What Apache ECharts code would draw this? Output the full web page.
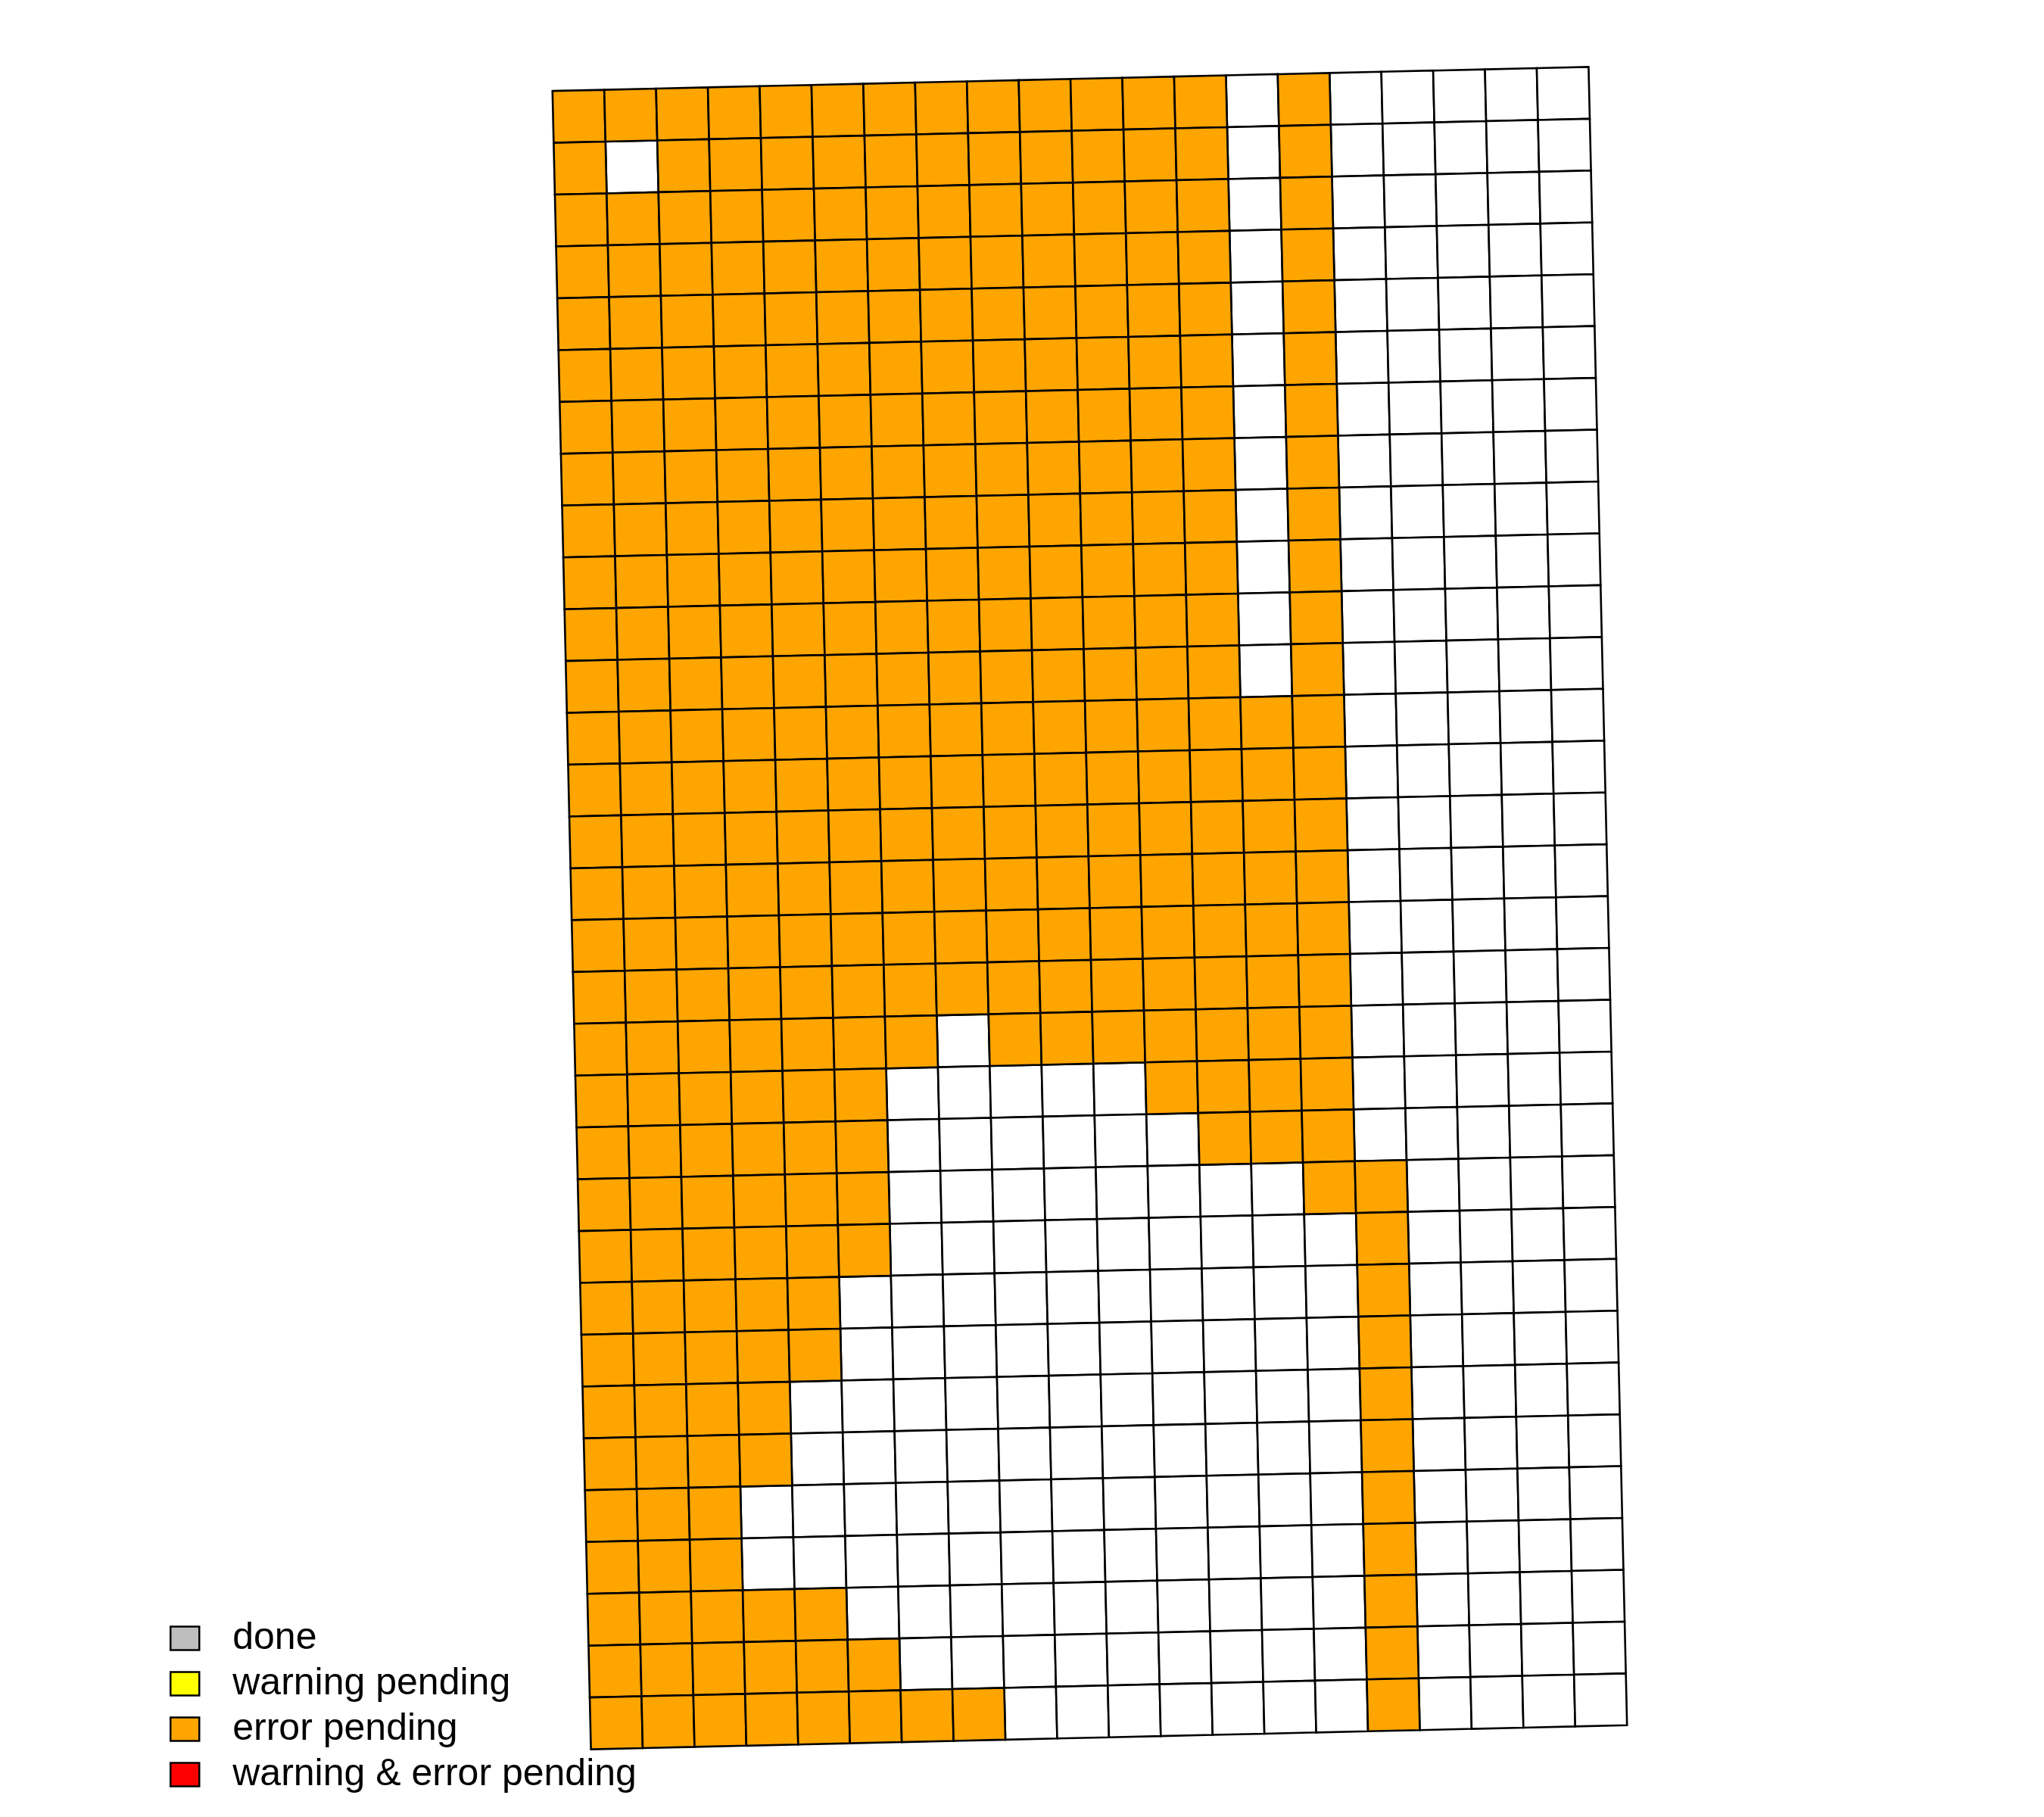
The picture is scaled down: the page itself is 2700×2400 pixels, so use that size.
<!DOCTYPE html>
<html><head><meta charset="utf-8">
<script src="https://cdn.jsdelivr.net/npm/echarts@6/dist/echarts.min.js"></script>
<style>html,body{margin:0;padding:0;background:#fff}#chart{width:2700px;height:2400px}</style>
</head><body><div id="chart"></div>
<script>
// Legend categories and their colours
const legendLabels = ['done', 'warning pending', 'error pending', 'warning & error pending'];
const legendCodes = ['D', 'W', 'E', 'B'];
const legendColors = ['#BEBEBE', '#FFFF00', '#FFA500', '#FF0000'];
const emptyCode = '.';
const emptyColor = '#FFFFFF';

// Grid of cell states: one string per row (top to bottom), one char per column
// E = error pending, . = not started
const statusRows = [
  'EEEEEEEEEEEEE.E.....',
  'E.EEEEEEEEEEE.E.....',
  'EEEEEEEEEEEEE.E.....',
  'EEEEEEEEEEEEE.E.....',
  'EEEEEEEEEEEEE.E.....',
  'EEEEEEEEEEEEE.E.....',
  'EEEEEEEEEEEEE.E.....',
  'EEEEEEEEEEEEE.E.....',
  'EEEEEEEEEEEEE.E.....',
  'EEEEEEEEEEEEE.E.....',
  'EEEEEEEEEEEEE.E.....',
  'EEEEEEEEEEEEE.E.....',
  'EEEEEEEEEEEEEEE.....',
  'EEEEEEEEEEEEEEE.....',
  'EEEEEEEEEEEEEEE.....',
  'EEEEEEEEEEEEEEE.....',
  'EEEEEEEEEEEEEEE.....',
  'EEEEEEEEEEEEEEE.....',
  'EEEEEEE.EEEEEEE.....',
  'EEEEEE.....EEEE.....',
  'EEEEEE......EEE.....',
  'EEEEEE........EE....',
  'EEEEEE.........E....',
  'EEEEE..........E....',
  'EEEEE..........E....',
  'EEEE...........E....',
  'EEEE...........E....',
  'EEE............E....',
  'EEE............E....',
  'EEEEE..........E....',
  'EEEEEE.........E....',
  'EEEEEEEE.......E....'
];

const nRows = statusRows.length;
const nCols = statusRows[0].length;
const tilt = 0.0232; // radians, counter-clockwise

function cellsFor(code) {
  const out = [];
  statusRows.forEach((row, r) => {
    for (let c = 0; c < row.length; c++) if (row[c] === code) out.push([c, r]);
  });
  return out;
}

function renderCell(params, api) {
  const c = api.value(0), r = api.value(1);
  const ctr = api.coord([nCols / 2, nRows / 2]);
  const cs = Math.cos(tilt), sn = Math.sin(tilt);
  const pts = [api.coord([c, r]), api.coord([c + 1, r]), api.coord([c + 1, r + 1]), api.coord([c, r + 1])]
    .map(p => {
      const dx = p[0] - ctr[0], dy = p[1] - ctr[1];
      return [ctr[0] + dx * cs + dy * sn, ctr[1] - dx * sn + dy * cs];
    });
  return {
    type: 'polygon',
    shape: { points: pts },
    style: { fill: api.visual('color'), stroke: '#000000', lineWidth: 2.6 }
  };
}

const series = [{
  name: 'not started', type: 'custom', renderItem: renderCell,
  data: cellsFor(emptyCode), itemStyle: { color: emptyColor }, silent: true
}];
legendLabels.forEach((lab, i) => {
  series.push({
    name: lab, type: 'custom', renderItem: renderCell,
    data: cellsFor(legendCodes[i]), itemStyle: { color: legendColors[i] }, silent: true
  });
});

const chart = echarts.init(document.getElementById('chart'), null, { renderer: 'canvas' });
chart.setOption({
  animation: false,
  backgroundColor: '#ffffff',
  grid: { left: 755, top: 104, width: 1369, height: 2191, containLabel: false },
  xAxis: { type: 'value', min: 0, max: nCols, show: false },
  yAxis: { type: 'value', min: 0, max: nRows, inverse: true, show: false },
  legend: {
    data: legendLabels,
    orient: 'vertical',
    left: 224,
    top: 2139,
    padding: 0,
    icon: 'rect',
    itemWidth: 38,
    itemHeight: 31,
    itemGap: 10,
    selectedMode: false,
    itemStyle: { borderColor: '#000000', borderWidth: 2.5 },
    textStyle: {
      fontFamily: 'Liberation Sans, Arial, sans-serif',
      fontSize: 50,
      lineHeight: 50,
      color: '#000000',
      padding: [0, 0, 0, 39]
    }
  },
  series: series
});
</script>
</body></html>
